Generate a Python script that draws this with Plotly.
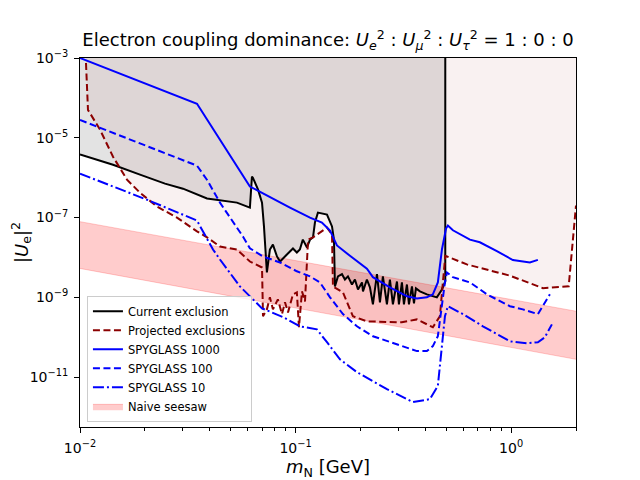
import plotly.graph_objects as go

# axis limits
x_lim = [-2, 0.30103]        # log10 of 0.01 .. 2
y_lim = [-12.25, -3]         # log10 of |U_e|^2
fill_top = 1.0               # exclusion fills run up past the top of the plot

# current exclusion (black)
cur_m = [0.0100, 0.01423, 0.01898, 0.02479, 0.03005, 0.03883, 0.05346, 0.06141,
         0.06276, 0.06339, 0.06699, 0.06988, 0.07136, 0.07292, 0.07363, 0.07603,
         0.07852, 0.08199, 0.08472, 0.0912, 0.09727, 0.1014, 0.1047, 0.1081,
         0.1130, 0.1167, 0.1205, 0.1230, 0.1270, 0.1399, 0.1476, 0.1507, 0.1523,
         0.1573, 0.1642, 0.1695, 0.1750, 0.1827, 0.1886, 0.1948, 0.2034, 0.2055,
         0.2143, 0.2213, 0.2285, 0.2386, 0.2463, 0.2542, 0.2654, 0.2740, 0.2829,
         0.2954, 0.3017, 0.3115, 0.3183, 0.3286, 0.3358, 0.3467, 0.3543, 0.3618,
         0.3775, 0.4066, 0.4335, 0.4525, 0.4776, 0.495, 0.495]
cur_U2 = [3.8e-6, 2.1e-6, 1.19e-6, 7.1e-7, 5.3e-7, 3.0e-7, 2.37e-7, 1.78e-7,
          1.06e-6, 1.0e-6, 5.0e-7, 2.37e-7, 6.0e-8, 8.9e-9, 4.2e-9, 1.58e-8,
          2.1e-8, 1.06e-8, 7.9e-9, 1.19e-8, 1.68e-8, 1.33e-8, 1.58e-8, 2.8e-8,
          1.78e-8, 2.8e-8, 3.2e-8, 7.5e-8, 1.33e-7, 1.19e-7, 6.0e-8, 2.8e-8, 1.88e-9,
          3.35e-9, 3.8e-9, 2.8e-9, 3.35e-9, 2.1e-9, 2.8e-9, 1.58e-9, 2.37e-9, 1.41e-9,
          2.8e-9, 1.78e-9, 6.7e-10, 3.8e-9, 7.5e-10, 3.35e-9, 6.7e-10, 2.8e-9, 6.7e-10,
          2.5e-9, 6.7e-10, 2.37e-9, 6.7e-10, 2.1e-9, 6.7e-10, 1.88e-9, 7.1e-10, 1.68e-9,
          1.41e-9, 1.19e-9, 1.06e-9, 1.0e-9, 1.58e-9, 2.5e-9, fill_top]

# projected exclusions (dark red dashed)
proj_m = [0.01066, 0.01089, 0.01238, 0.01423, 0.01652, 0.01898, 0.02277, 0.02818,
          0.0349, 0.03883, 0.0446, 0.05346, 0.06141, 0.06988, 0.07063, 0.07363,
          0.07603, 0.07852, 0.08279, 0.0865, 0.08933, 0.09226, 0.09727, 0.1014,
          0.1037, 0.1071, 0.1106, 0.1143, 0.1205, 0.1399, 0.1476, 0.1491, 0.1659,
          0.1846, 0.2143, 0.311, 0.3656, 0.4335, 0.4672, 0.4826, 0.495, 0.504,
          0.623, 0.987, 1.404, 1.85, 2.0]
proj_U2 = [7.5e-4, 5.0e-5, 1.6e-5, 3.35e-6, 8.9e-7, 4.2e-7, 1.88e-7, 1.0e-7,
           4.5e-8, 3.2e-8, 1.88e-8, 1.58e-8, 7.9e-9, 5.6e-9, 3.35e-10, 5.0e-10,
           1.0e-9, 5.0e-10, 8.9e-10, 3.8e-10, 7.5e-10, 4.2e-10, 1.19e-9, 1.33e-9,
           1.78e-10, 1.41e-9, 7.9e-10, 2.8e-8, 3.2e-8, 5.6e-8, 3.8e-8, 1.88e-9, 1.33e-9,
           3.35e-10, 2.5e-10, 2.37e-10, 2.8e-10, 1.78e-10, 3.35e-10, 1.88e-9, 1.1e-8, 1.06e-8,
           6.7e-9, 3.5e-9, 1.7e-9, 1.9e-9, 2.0e-7]

# SPYGLASS 1000 (solid blue)
sg1000_m = [0.0100, 0.0349, 0.0614, 0.0760, 0.0942, 0.1167, 0.1325, 0.1445, 0.1556,
            0.1788, 0.2143, 0.2285, 0.274, 0.3286, 0.3656, 0.4066, 0.4335, 0.4572,
            0.4776, 0.499, 0.509, 0.537, 0.644, 0.716, 0.859, 1.019, 1.222, 1.331]
sg1000_U2 = [1.0e-3, 7.1e-5, 6.0e-7, 3.2e-7, 1.78e-7, 1.0e-7, 7.5e-8, 4.7e-8, 2.0e-8,
             1.1e-8, 5.2e-9, 3.2e-9, 1.78e-9, 1.06e-9, 9.4e-10, 1.0e-9, 1.19e-9, 2.37e-9,
             1.58e-8, 5.3e-8, 6.3e-8, 4.8e-8, 2.8e-8, 2.4e-8, 1.45e-8, 8.6e-9, 7.5e-9, 8.7e-9]

# SPYGLASS 100 (blue dashed)
sg100_m = [0.0100, 0.0349, 0.0388, 0.0446, 0.0570, 0.0614, 0.0706, 0.0847, 0.1014,
           0.1167, 0.1297, 0.1445, 0.1659, 0.1927, 0.2285, 0.274, 0.3148, 0.3656,
           0.4066, 0.4335, 0.4572, 0.4776, 0.4932, 0.504, 0.537, 0.644, 0.773,
           0.987, 1.134, 1.331, 1.434, 1.513]
sg100_U2 = [2.8e-5, 2.0e-6, 8.9e-7, 2.37e-7, 3.35e-8, 1.7e-8, 1.06e-8, 7.5e-9, 4.5e-9,
            3.35e-9, 2.37e-9, 1.0e-9, 3.8e-10, 1.88e-10, 1.06e-10, 7.5e-11, 6.0e-11, 4.5e-11,
            4.5e-11, 6.0e-11, 1.06e-10, 7.5e-10, 2.37e-9, 4.2e-9, 3.2e-9, 2.37e-9, 1.19e-9,
            6.0e-10, 5.0e-10, 3.8e-10, 7.5e-10, 1.19e-9]

# SPYGLASS 10 (blue dash-dot)
sg10_m = [0.0100, 0.02046, 0.0349, 0.0380, 0.0414, 0.0446, 0.05521, 0.06988, 0.0875,
          0.1047, 0.1256, 0.1399, 0.1607, 0.1927, 0.2654, 0.3504, 0.4198, 0.4572,
          0.4776, 0.4932, 0.509, 0.598, 0.740, 0.987, 1.183, 1.331, 1.434, 1.546]
sg10_U2 = [1.26e-6, 2.8e-7, 8.4e-8, 3.8e-8, 1.58e-8, 8.9e-9, 1.88e-9, 5.3e-10, 3.2e-10,
           1.88e-10, 1.58e-10, 7.5e-11, 2.8e-11, 1.33e-11, 5.0e-12, 2.37e-12, 2.8e-12, 6.0e-12,
           6.0e-11, 3.35e-10, 6.0e-10, 3.8e-10, 1.88e-10, 7.9e-11, 7.1e-11, 7.5e-11, 1.0e-10,
           2.1e-10]

# naive seesaw band
seesaw_m = [0.01, 2.0]
seesaw_hi = [7.9e-8, 4.5e-10]
seesaw_lo = [5.3e-9, 2.8e-11]

x_tickvals = [0.01, 0.1, 1]
x_ticktext = ["10<sup>\u22122</sup>", "10<sup>\u22121</sup>", "10<sup>0</sup>"]
x_minor = [k * d for d in (0.01, 0.1, 1) for k in range(2, 10) if k * d <= 2]
y_tickvals = [1e-3, 1e-5, 1e-7, 1e-9, 1e-11]
y_ticktext = ["10<sup>\u22123</sup>", "10<sup>\u22125</sup>", "10<sup>\u22127</sup>",
              "10<sup>\u22129</sup>", "10<sup>\u221211</sup>"]

fig = go.Figure()

# exclusion areas (current = gray, projected = faint dark red)
fig.add_trace(go.Scatter(x=cur_m + [cur_m[0]], y=cur_U2 + [fill_top],
                         mode="lines", fill="toself", line=dict(width=0),
                         fillcolor="rgba(0,0,0,0.11)", showlegend=False, hoverinfo="skip"))
fig.add_trace(go.Scatter(x=proj_m + [proj_m[-1], proj_m[0]], y=proj_U2 + [fill_top, fill_top],
                         mode="lines", fill="toself", line=dict(width=0),
                         fillcolor="rgba(139,0,0,0.055)", showlegend=False, hoverinfo="skip"))

# seesaw band
fig.add_trace(go.Scatter(x=seesaw_m, y=seesaw_lo, mode="lines",
                         line=dict(color="rgba(255,0,0,0.2)", width=1),
                         showlegend=False, hoverinfo="skip"))
fig.add_trace(go.Scatter(x=seesaw_m, y=seesaw_hi, mode="lines", fill="tonexty",
                         fillcolor="rgba(255,0,0,0.2)",
                         line=dict(color="rgba(255,0,0,0.2)", width=1),
                         name="Naive seesaw", legendrank=6))

fig.add_trace(go.Scatter(x=cur_m, y=cur_U2, mode="lines", name="Current exclusion",
                         line=dict(color="black", width=2), legendrank=1))
fig.add_trace(go.Scatter(x=proj_m, y=proj_U2, mode="lines", name="Projected exclusions",
                         line=dict(color="#8b0000", width=2, dash="7px,3.5px"), legendrank=2))
fig.add_trace(go.Scatter(x=sg1000_m, y=sg1000_U2, mode="lines", name="SPYGLASS 1000",
                         line=dict(color="blue", width=2), legendrank=3))
fig.add_trace(go.Scatter(x=sg100_m, y=sg100_U2, mode="lines", name="SPYGLASS 100",
                         line=dict(color="blue", width=2, dash="7px,3.5px"), legendrank=4))
fig.add_trace(go.Scatter(x=sg10_m, y=sg10_U2, mode="lines", name="SPYGLASS 10",
                         line=dict(color="blue", width=2, dash="11px,3px,2px,3px"), legendrank=5))

axis_style = dict(type="log", showline=True, linecolor="black", linewidth=1, mirror=True,
                  ticks="outside", ticklen=5, tickcolor="black", showgrid=False,
                  zeroline=False, automargin=False, ticklabelstandoff=3,
                  tickfont=dict(size=14, color="black"))

# the page puts the figure 8 px in from the top-left, so margins allow for that
fig.update_layout(
    width=640, height=480,
    margin=dict(l=72, r=72, t=50, b=61),
    paper_bgcolor="white", plot_bgcolor="white",
    font=dict(family="DejaVu Sans", color="black"),
    title=dict(text="Electron coupling dominance: <i>U</i><sub><i>e</i></sub><sup>2</sup> : "
                    "<i>U</i><sub><i>\u03bc</i></sub><sup>2</sup> : "
                    "<i>U</i><sub><i>\u03c4</i></sub><sup>2</sup> = 1 : 0 : 0",
               x=0.5, xref="paper", xanchor="center",
               y=1 - 32 / 480, yref="container", yanchor="middle",
               font=dict(size=18)),
    xaxis=dict(axis_style, range=x_lim, tickvals=x_tickvals, ticktext=x_ticktext,
               minor=dict(tickvals=x_minor, ticks="outside", ticklen=3, tickcolor="black",
                          showgrid=False),
               title=dict(text="<i>m</i><sub>N</sub> [GeV]", font=dict(size=18), standoff=5)),
    yaxis=dict(axis_style, range=y_lim, tickvals=y_tickvals, ticktext=y_ticktext,
               title=dict(text="|<i>U</i><sub>e</sub>|<sup>2</sup>", font=dict(size=18),
                          standoff=12)),
    legend=dict(x=0.014, y=0.014, xanchor="left", yanchor="bottom",
                bgcolor="rgba(255,255,255,0.8)", bordercolor="#cccccc", borderwidth=1,
                font=dict(size=11.5), traceorder="normal"),
)

fig.write_html("out.html")
